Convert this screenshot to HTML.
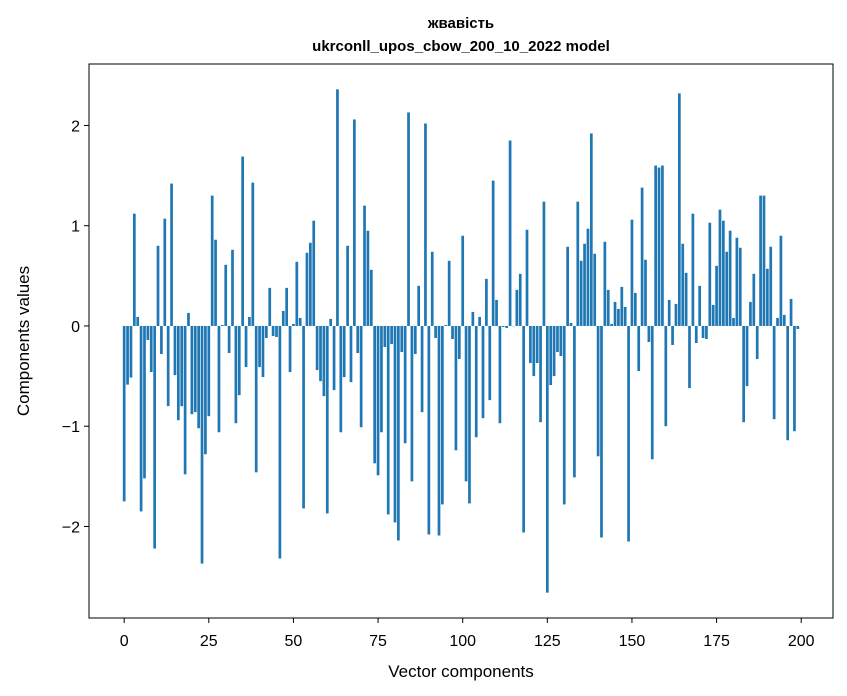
<!DOCTYPE html>
<html><head><meta charset="utf-8"><style>
body{margin:0;background:#fff;}
svg{display:block;font-family:"Liberation Sans","DejaVu Sans",sans-serif;}
</style></head><body>
<svg id="chart" width="847" height="696" viewBox="0 0 847 696">
<rect width="847" height="696" fill="#fff"/>
<text x="461" y="28" text-anchor="middle" font-size="15" font-weight="bold">жвавість</text>
<text x="461" y="51" text-anchor="middle" font-size="15" font-weight="bold">ukrconll_upos_cbow_200_10_2022 model</text>
<g id="bars"></g>
<g id="xticks"></g>
<g id="yticks"></g>
<rect x="89" y="64" width="744" height="554" fill="none" stroke="#000" stroke-width="1"/>
<text x="461" y="677" text-anchor="middle" font-size="17">Vector components</text>
<text transform="translate(29,341) rotate(-90)" text-anchor="middle" font-size="17">Components values</text>
</svg>
<script>
const values = [
-1.75,-0.585,-0.515,1.12,0.09,-1.85,-1.52,-0.14,-0.46,-2.22,
0.80,-0.28,1.07,-0.80,1.42,-0.49,-0.94,-0.80,-1.48,0.13,
-0.88,-0.86,-1.02,-2.37,-1.28,-0.90,1.30,0.86,-1.06,0.01,
0.61,-0.27,0.76,-0.97,-0.69,1.69,-0.41,0.09,1.43,-1.46,
-0.41,-0.51,-0.12,0.38,-0.10,-0.11,-2.32,0.15,0.38,-0.46,
0.02,0.64,0.08,-1.82,0.73,0.83,1.05,-0.44,-0.55,-0.70,
-1.87,0.07,-0.64,2.36,-1.06,-0.51,0.80,-0.56,2.06,-0.27,
-1.01,1.20,0.95,0.56,-1.37,-1.49,-1.06,-0.21,-1.88,-0.18,
-1.96,-2.14,-0.26,-1.17,2.13,-1.55,-0.28,0.40,-0.86,2.02,
-2.08,0.74,-0.12,-2.09,-1.78,0.01,0.65,-0.13,-1.24,-0.33,
0.90,-1.55,-1.77,0.14,-1.11,0.09,-0.92,0.47,-0.74,1.45,
0.26,-0.97,-0.01,-0.02,1.85,0.0,0.36,0.52,-2.06,0.96,
-0.37,-0.50,-0.37,-0.96,1.24,-2.66,-0.59,-0.50,-0.26,-0.30,
-1.78,0.79,0.03,-1.51,1.24,0.65,0.82,0.97,1.92,0.72,
-1.30,-2.11,0.84,0.36,0.02,0.24,0.17,0.39,0.19,-2.15,
1.06,0.33,-0.45,1.38,0.66,-0.16,-1.33,1.60,1.58,1.60,
-1.00,0.26,-0.19,0.22,2.32,0.82,0.53,-0.62,1.12,-0.17,
0.40,-0.12,-0.13,1.03,0.21,0.60,1.16,1.05,0.74,0.95,
0.08,0.88,0.78,-0.96,-0.60,0.24,0.52,-0.33,1.30,1.30,
0.57,0.79,-0.93,0.08,0.90,0.11,-1.14,0.27,-1.05,-0.03
];
const xTickLabels = [0,25,50,75,100,125,150,175,200];
const yTickLabels = [-2,-1,0,1,2];
const NS = "http://www.w3.org/2000/svg";
const L=89,R=833,T=64,B=618;
const xMin=-10.39,xMax=209.39,yMin=-2.913,yMax=2.613;
function xs(v){return L+(v-xMin)/(xMax-xMin)*(R-L);}
function ys(v){return T+(yMax-v)/(yMax-yMin)*(B-T);}
const bars=document.getElementById('bars');
values.forEach((v,i)=>{
  const r=document.createElementNS(NS,'rect');
  const x0=xs(i-0.4),x1=xs(i+0.4);
  const y0=ys(Math.max(v,0)),y1=ys(Math.min(v,0));
  r.setAttribute('x',x0);r.setAttribute('width',x1-x0);
  r.setAttribute('y',y0);r.setAttribute('height',Math.max(y1-y0,0.3));
  r.setAttribute('fill','#1f77b4');
  
  
  bars.appendChild(r);
});
const xt=document.getElementById('xticks');
xTickLabels.forEach(t=>{
  const x=xs(t);
  const l=document.createElementNS(NS,'line');
  l.setAttribute('x1',x);l.setAttribute('x2',x);l.setAttribute('y1',B);l.setAttribute('y2',B+5);
  l.setAttribute('stroke','#000');
  
  
  xt.appendChild(l);
  const s=document.createElementNS(NS,'text');
  s.setAttribute('x',x);s.setAttribute('y',B+28);s.setAttribute('text-anchor','middle');s.setAttribute('font-size','16');
  s.textContent=t;
  
  
  xt.appendChild(s);
});
const yt=document.getElementById('yticks');
yTickLabels.forEach(t=>{
  const y=ys(t);
  const l=document.createElementNS(NS,'line');
  l.setAttribute('x1',L-5);l.setAttribute('x2',L);l.setAttribute('y1',y);l.setAttribute('y2',y);
  l.setAttribute('stroke','#000');
  
  
  yt.appendChild(l);
  const s=document.createElementNS(NS,'text');
  s.setAttribute('x',L-9);s.setAttribute('y',y+6);s.setAttribute('text-anchor','end');s.setAttribute('font-size','16');
  s.textContent=t<0?'\u2212'+Math.abs(t):String(t);
  
  
  yt.appendChild(s);
});
</script>
</body></html>
